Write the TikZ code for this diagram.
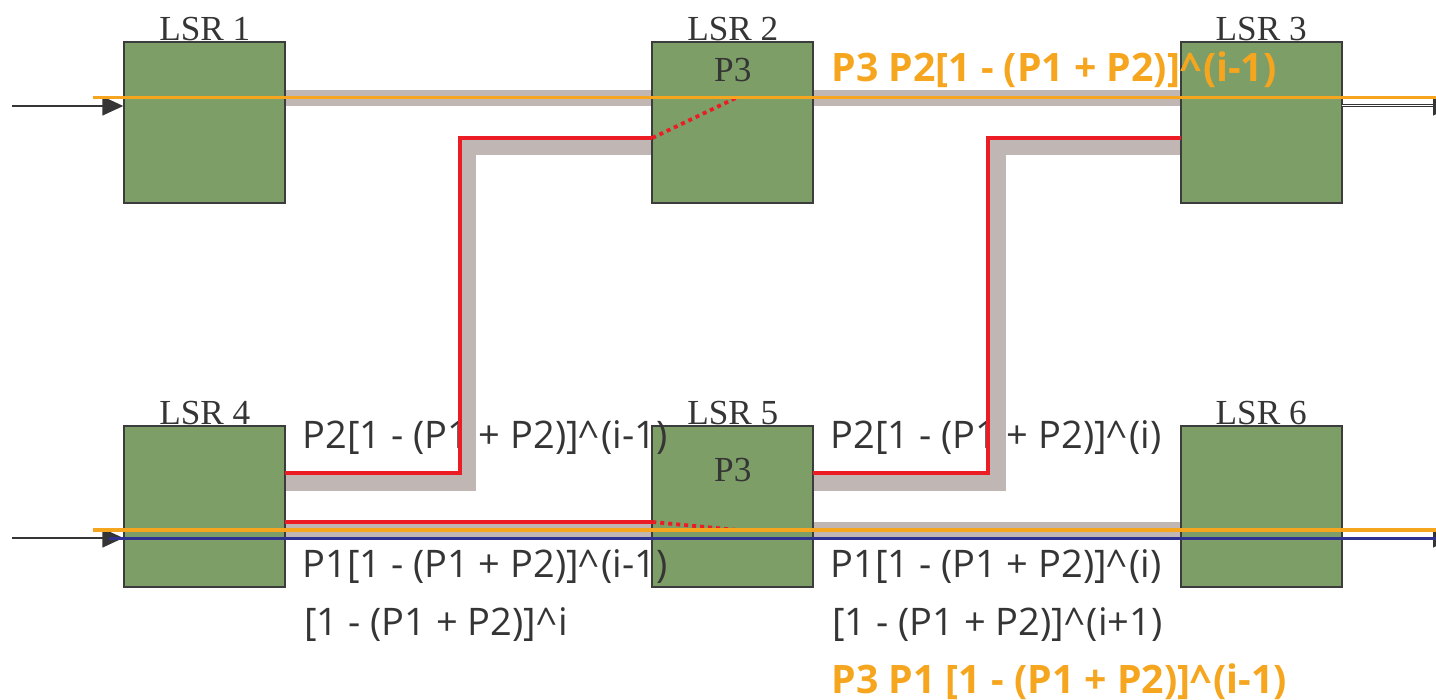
\documentclass[tikz,border=0pt]{standalone}
\usepackage{fontspec}
\setmainfont{Liberation Serif}
\newfontfamily\labelsans{Open Sans}
\usetikzlibrary{calc,arrows.meta}

\definecolor{boxgreen}{HTML}{7E9E68}
\definecolor{boxedge}{HTML}{3C3C3C}
\definecolor{bandgray}{HTML}{C0B6B3}
\definecolor{pathred}{HTML}{EC1C24}
\definecolor{pathorange}{HTML}{F6A51F}
\definecolor{pathblue}{HTML}{2E3192}
\definecolor{inkgray}{HTML}{353535}

% caret with the wider spacing used in the formulas
\newcommand{\caretsym}{\textasciicircum\kern1pt}

\tikzset{
  lsr/.style={draw=boxedge, line width=1pt, fill=boxgreen,
    minimum width=79.5pt, minimum height=79.5pt, inner sep=0pt},
  lsrname/.style={font=\fontsize{17.6}{20}\selectfont, text=inkgray,
    inner sep=0pt, anchor=base},
  band/.style={bandgray, line width=8pt},
  redpath/.style={pathred, line width=1.9pt},
  reddots/.style={pathred, line width=1.9pt, dash pattern=on 2pt off 2pt},
  orangepath/.style={pathorange, line width=1.9pt},
  bluepath/.style={pathblue, line width=1.9pt},
  flowin/.style={inkgray, line width=0.75pt,
    -{Triangle[length=10.5pt,width=9.5pt]}},
  flowout/.style={inkgray, line width=0.5pt, double=white, double distance=0.5pt,
    -{Triangle[length=10.5pt,width=9.5pt]}},
  formula/.style={font=\labelsans\fontsize{19}{22}\selectfont, text=inkgray,
    inner sep=0pt, anchor=base west},
  formulahi/.style={font=\labelsans\bfseries\fontsize{19.6}{22}\selectfont,
    text=pathorange, inner sep=0pt, anchor=base west},
}

\begin{document}
\begin{tikzpicture}[x=0.5pt, y=-0.5pt]
  \clip (0,0) rectangle (1436,700);

  % the six routers
  \node[lsr] (lsr1) at (204.8,122.5) {};
  \node[lsr] (lsr2) at (732.8,122.5) {};
  \node[lsr] (lsr3) at (1261.2,122.5) {};
  \node[lsr] (lsr4) at (204.8,506.5) {};
  \node[lsr] (lsr5) at (732.8,506.5) {};
  \node[lsr] (lsr6) at (1261.2,506.5) {};

  % links between routers
  \draw[band] ($(lsr1.east)+(0,-24)$) -- ($(lsr2.west)+(0,-24)$);
  \draw[band] ($(lsr2.east)+(0,-24)$) -- ($(lsr3.west)+(0,-24)$);
  \draw[band] ($(lsr4.east)+(0,23.5)$) -- ($(lsr5.west)+(0,23.5)$);
  \draw[band] ($(lsr5.east)+(0,23.5)$) -- ($(lsr6.west)+(0,23.5)$);
  \draw[band] ($(lsr4.east)+(0,-23.5)$) -| ($(lsr2.west)+(-184,24.5)$)
    -- ($(lsr2.west)+(0,24.5)$);
  \draw[band] ($(lsr5.east)+(0,-23.5)$) -| ($(lsr3.west)+(-183,24.5)$)
    -- ($(lsr3.west)+(0,24.5)$);

  % redraw the routers above the links
  \foreach \n in {lsr1,lsr2,lsr3,lsr4,lsr5,lsr6}
    \path[draw=boxedge, line width=1pt, fill=boxgreen]
      (\n.south west) rectangle (\n.north east);

  % router names and local probabilities
  \node[lsrname] (n1) at ($(lsr1.north)+(0,-1.5)$) {LSR 1};
  \node[lsrname] (n2) at ($(lsr2.north)+(0,-1.5)$) {LSR 2};
  \node[lsrname] (n3) at ($(lsr3.north)+(0,-1.5)$) {LSR 3};
  \node[lsrname] (n4) at ($(lsr4.north)+(0,-1.5)$) {LSR 4};
  \node[lsrname] (n5) at ($(lsr5.north)+(0,-1.5)$) {LSR 5};
  \node[lsrname] (n6) at ($(lsr6.north)+(0,-1.5)$) {LSR 6};
  \node[lsrname] (p3a) at ($(lsr2.north)+(0,39.5)$) {P3};
  \node[lsrname] (p3b) at ($(lsr5.north)+(0,55.5)$) {P3};

  % path probabilities
  \node[formula] (f1) at (302,448) {P2[1 - (P1 + P2)]\caretsym(i-1)};
  \node[formula] (f2) at (830,448) {P2[1 - (P1 + P2)]\caretsym(i)};
  \node[formula] (f3) at (302,577) {P1[1 - (P1 + P2)]\caretsym(i-1)};
  \node[formula] (f4) at (830,577) {P1[1 - (P1 + P2)]\caretsym(i)};
  \node[formula] (f5) at (304,635) {[1 - (P1 + P2)]\caretsym i};
  \node[formula] (f6) at (832,635) {[1 - (P1 + P2)]\caretsym(i+1)};
  \node[formulahi] (f7) at (831,82) {P3 P2[1 - (P1 + P2)]\caretsym(i-1)};
  \node[formulahi] (f8) at (831,693) {P3 P1 [1 - (P1 + P2)]\caretsym(i-1)};

  % deflected (red) paths
  \draw[redpath] ($(lsr4.east)+(0,-33.5)$) -| ($(lsr2.west)+(-192.5,15.5)$)
    -- ($(lsr2.west)+(0,15.5)$);
  \draw[reddots] ($(lsr2.west)+(0,15.5)$) -- ($(lsr2.center)+(4,-25)$);
  \draw[redpath] ($(lsr5.east)+(0,-33.5)$) -| ($(lsr3.west)+(-192.5,15.5)$)
    -- ($(lsr3.west)+(0,15.5)$);
  \draw[redpath] ($(lsr4.east)+(0,15.5)$) -- ($(lsr5.west)+(0,15.5)$);
  \draw[reddots] ($(lsr5.west)+(0,15.5)$) -- ($(lsr5.center)+(4,23.5)$);

  % ingress and egress traffic
  \coordinate (in1) at (12,106);
  \coordinate (in4) at (12,538);
  \coordinate (out3) at (1454,106);
  \coordinate (out6) at (1454,538);
  \draw[flowin] (in1) -- ($(lsr1.west)+(-1,-16.5)$);
  \draw[flowin] (in4) -- ($(lsr4.west)+(-1,31.5)$);
  \draw[flowout] ($(lsr3.east)+(0,-16.5)$) -- (out3);
  \draw[flowout] ($(lsr6.east)+(0,31.5)$) -- (out6);

  % end-to-end flows
  \coordinate (oa) at (93,97.5);
  \coordinate (ob) at (1440,97.5);
  \coordinate (oc) at (93,530);
  \coordinate (od) at (1440,530);
  \coordinate (ba) at (109,538.5);
  \coordinate (bb) at (1440,538.5);
  \draw[orangepath] (oa) -- (ob);
  \draw[orangepath] (oc) -- (od);
  \draw[bluepath] (ba) -- (bb);
\end{tikzpicture}
\end{document}
